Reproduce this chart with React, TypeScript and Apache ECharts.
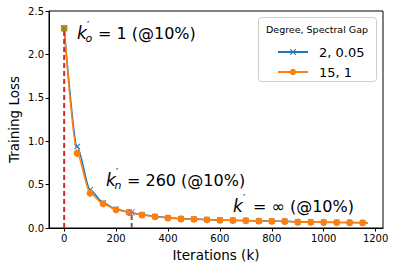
import React, { useEffect, useRef } from "react";
import * as echarts from "echarts";

const iterations = [0, 50, 100, 150, 200, 250, 300, 350, 400, 450, 500, 550, 600, 650, 700, 750, 800, 850, 900, 950, 1000, 1050, 1100, 1150, 1170];
const lossDeg2 = [2.3, 0.94, 0.44, 0.29, 0.215, 0.183, 0.153, 0.133, 0.118, 0.108, 0.103, 0.097, 0.092, 0.089, 0.086, 0.082, 0.08, 0.077, 0.07, 0.068, 0.066, 0.065, 0.063, 0.061, 0.06];
const lossDeg15 = [2.3, 0.86, 0.4, 0.28, 0.21, 0.18, 0.15, 0.13, 0.115, 0.105, 0.1, 0.095, 0.09, 0.088, 0.085, 0.08, 0.078, 0.076, 0.068, 0.066, 0.065, 0.064, 0.062, 0.06, 0.059];
const seriesNames = ["2, 0.05", "15, 1"];
const legendTitle = "Degree, Spectral Gap";
const kO = [0, 2.3];
const kN = [260, 0.18];
const xTicks = [0, 200, 400, 600, 800, 1000, 1200];
const yTicks = [0, 0.5, 1.0, 1.5, 2.0, 2.5];

const XSYM = "path://M0,1.2L1.2,0L5,3.8L8.8,0L10,1.2L6.2,5L10,8.8L8.8,10L5,6.2L1.2,10L0,8.8L3.8,5Z";
const FONT = "DejaVu Sans";

function mathLabel(x: number, y: number, sub: string, rest: string) {
  const children: any[] = [
    { type: "text", x: x, y: y, style: { text: "k", fontFamily: FONT, fontStyle: "italic", fontSize: 17, fill: "#000", verticalAlign: "middle" } },
    { type: "text", x: x + 10, y: y - 8, style: { text: "′", fontFamily: FONT, fontSize: 10, fill: "#000", verticalAlign: "middle" } },
  ];
  let off = 20;
  if (sub) {
    children.push({ type: "text", x: x + 8.5, y: y + 5, style: { text: sub, fontFamily: FONT, fontStyle: "italic", fontSize: 11, fill: "#000", verticalAlign: "middle" } });
    off = 21;
  }
  children.push({ type: "text", x: x + off, y: y, style: { text: rest, fontFamily: FONT, fontSize: 16, fill: "#000", verticalAlign: "middle" } });
  return { type: "group", children };
}

export default function App() {
  const ref = useRef<HTMLDivElement>(null);
  useEffect(() => {
    const chart = echarts.init(ref.current!, null, { renderer: "svg" });
    const d2 = iterations.map((x, i) => (i === iterations.length - 1 ? { value: [x, lossDeg2[i]], symbol: "none" } : [x, lossDeg2[i]]));
    const d15 = iterations.map((x, i) => (i === iterations.length - 1 ? { value: [x, lossDeg15[i]], symbol: "none" } : [x, lossDeg15[i]]));
    chart.setOption({
      animation: false,
      textStyle: { fontFamily: FONT },
      grid: { left: 49, right: 10, top: 11, bottom: 42, outerBoundsMode: "none", containLabel: false, show: true, borderColor: "#000", borderWidth: 1, backgroundColor: "transparent" },
      xAxis: {
        type: "value",
        min: -58.5,
        max: 1228.5,
        name: "Iterations (k)",
        nameLocation: "middle",
        nameGap: 20,
        nameMoveOverlap: false,
        nameTextStyle: { fontSize: 13.5, color: "#000", fontFamily: FONT },
        axisLine: { show: true, onZero: false, lineStyle: { color: "#000", width: 1 } },
        axisTick: { show: true, length: 3.5, lineStyle: { color: "#000" }, customValues: xTicks },
        axisLabel: { color: "#000", fontSize: 10, margin: 5, customValues: xTicks, formatter: (v: number) => String(v), fontFamily: FONT },
        splitLine: { show: false },
      },
      yAxis: {
        type: "value",
        min: 0,
        max: 2.5,
        interval: 0.5,
        name: "Training Loss",
        nameLocation: "middle",
        nameGap: 28,
        nameMoveOverlap: false,
        nameTextStyle: { fontSize: 13.5, color: "#000", fontFamily: FONT },
        axisLine: { show: true, onZero: false, lineStyle: { color: "#000", width: 1 } },
        axisTick: { show: true, length: 3.5, lineStyle: { color: "#000" }, customValues: yTicks },
        axisLabel: { color: "#000", fontSize: 10, margin: 5, customValues: yTicks, formatter: (v: number) => v.toFixed(1), fontFamily: FONT },
        splitLine: { show: false },
      },
      legend: {
        data: seriesNames,
        orient: "vertical",
        left: 272,
        top: 40,
        itemWidth: 30,
        itemHeight: 8,
        itemGap: 6,
        textStyle: { fontSize: 13, color: "#000", fontFamily: FONT, lineHeight: 14, padding: [0, 0, 0, 6] },
      },
      graphic: [
        { type: "rect", left: 258, top: 17, z: 0, shape: { width: 118, height: 64, r: 3 }, style: { fill: "rgba(255,255,255,0.8)", stroke: "#cccccc", lineWidth: 1 } },
        { type: "text", x: 317, y: 29, style: { text: legendTitle, fontFamily: FONT, fontSize: 9.5, fill: "#000", align: "center", verticalAlign: "middle" } },
        mathLabel(77, 33, "o", "= 1 (@10%)"),
        mathLabel(106, 180, "n", "= 260 (@10%)"),
        mathLabel(233, 206, "", "= ∞ (@10%)"),
      ],
      series: [
        {
          name: seriesNames[0],
          type: "line",
          data: d2,
          smooth: 0.25,
          smoothMonotone: "x",
          symbol: XSYM,
          symbolSize: 6,
          lineStyle: { color: "#1f77b4", width: 1.5 },
          itemStyle: { color: "#1f77b4" },
          z: 2,
        },
        {
          name: seriesNames[1],
          type: "line",
          data: d15,
          smooth: 0.25,
          smoothMonotone: "x",
          symbol: "circle",
          symbolSize: 7,
          lineStyle: { color: "#ff7f0e", width: 1.5 },
          itemStyle: { color: "#ff7f0e" },
          z: 3,
        },
        {
          name: "ko",
          type: "line",
          data: [[kO[0], 0], [kO[0], kO[1]]],
          symbol: "none",
          lineStyle: { color: "#d62728", width: 2, type: [5, 3] },
          z: 4,
        },
        {
          name: "kn",
          type: "line",
          data: [[kN[0], 0], [kN[0], kN[1]]],
          symbol: "none",
          lineStyle: { color: "#8c564b", width: 2, type: [5, 3] },
          z: 4,
        },
        {
          name: "markers",
          type: "scatter",
          data: [
            { value: kO, itemStyle: { color: "#2ca02c" } },
            { value: kN, itemStyle: { color: "#9467bd" } },
          ],
          symbol: XSYM,
          symbolSize: 7,
          z: 5,
        },
      ],
    });
    return () => chart.dispose();
  }, []);
  return <div ref={ref} style={{ position: "absolute", left: 0, top: 0, width: 393, height: 270 }} />;
}
